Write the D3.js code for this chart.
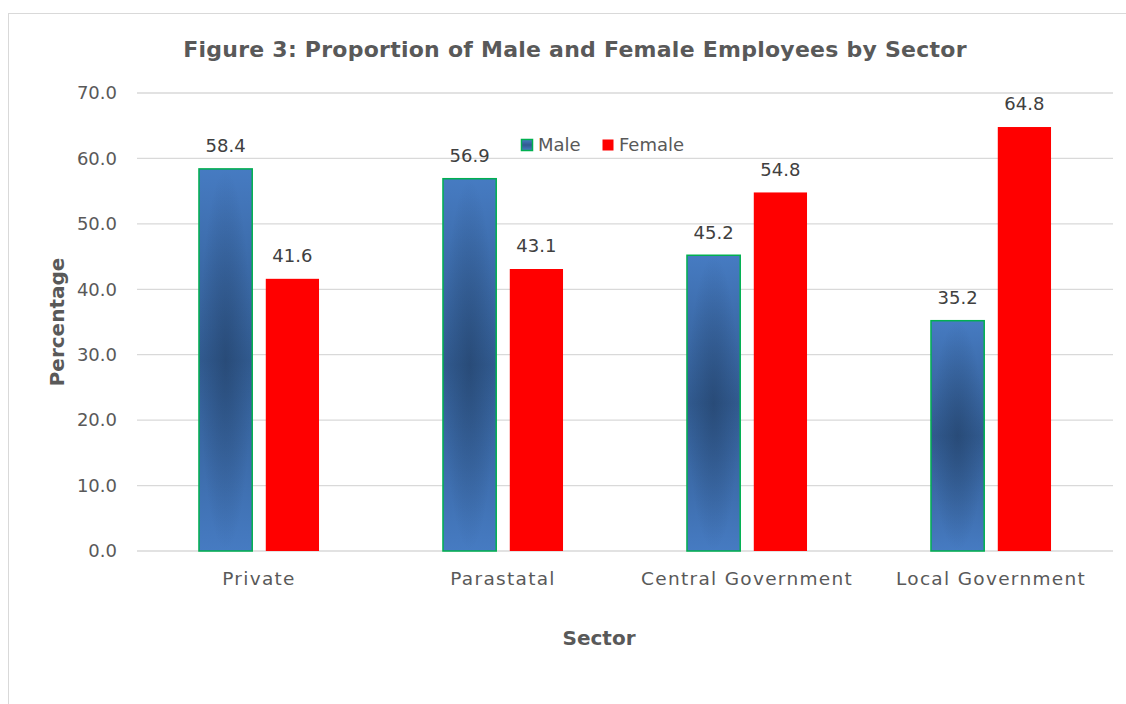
<!DOCTYPE html>
<html>
<head>
<meta charset="utf-8">
<script src="https://cdn.jsdelivr.net/npm/d3@7"></script>
<style>
  body { margin: 0; background: #fff; }
  text { font-family: "DejaVu Sans", sans-serif; }
</style>
</head>
<body>
<div id="chart"></div>
<script>
// chart data
const sectors = ["Private", "Parastatal", "Central Government", "Local Government"];
const seriesNames = ["Male", "Female"];
const maleValues = [58.4, 56.9, 45.2, 35.2];
const femaleValues = [41.6, 43.1, 54.8, 64.8];
const yTicks = [0, 10, 20, 30, 40, 50, 60, 70];

const W = 1126, H = 704;
const margin = { top: 93, right: 13, bottom: 153, left: 137 };
const width = W - margin.left - margin.right;
const height = H - margin.top - margin.bottom;

const rows = sectors.map((s, i) => ({ sector: s, Male: maleValues[i], Female: femaleValues[i] }));

const svg = d3.select("#chart").append("svg")
    .attr("width", W)
    .attr("height", H);

// outer frame
svg.append("rect")
    .attr("x", 8.5).attr("y", 13.5)
    .attr("width", 1300).attr("height", 900)
    .attr("fill", "#fff")
    .attr("stroke", "#d9d9d9");

// gradient for male bars
const defs = svg.append("defs");
const lin = defs.append("linearGradient")
    .attr("id", "maleLin")
    .attr("x1", 0).attr("y1", 0).attr("x2", 0).attr("y2", 1);
lin.append("stop").attr("offset", "0%").attr("stop-color", "#467bc2");
lin.append("stop").attr("offset", "50%").attr("stop-color", "#315a8f");
lin.append("stop").attr("offset", "100%").attr("stop-color", "#467bc2");
const rad = defs.append("radialGradient")
    .attr("id", "maleRad")
    .attr("cx", 0.5).attr("cy", 0.5).attr("r", 0.5);
rad.append("stop").attr("offset", "0%").attr("stop-color", "#1c3556").attr("stop-opacity", 0.4);
rad.append("stop").attr("offset", "100%").attr("stop-color", "#1c3556").attr("stop-opacity", 0);

const g = svg.append("g")
    .attr("transform", `translate(${margin.left},${margin.top})`);

// scales
const x0 = d3.scaleBand()
    .domain(sectors)
    .range([0, width])
    .paddingInner(0.508)
    .paddingOuter(0.254);

const x1 = d3.scaleBand()
    .domain(seriesNames)
    .range([0, x0.bandwidth()])
    .paddingInner(0.203);

const y = d3.scaleLinear()
    .domain([0, 70])
    .range([height, 0]);

// gridlines
g.append("g")
    .selectAll("line")
    .data(yTicks)
    .enter()
    .append("line")
    .attr("x1", 0).attr("x2", width)
    .attr("y1", d => y(d)).attr("y2", d => y(d))
    .attr("stroke", "#d9d9d9")
    .attr("stroke-width", 1.3);

// y axis labels
const yAxis = g.append("g")
    .attr("transform", "translate(-17,0)")
    .call(d3.axisLeft(y).tickValues(yTicks).tickFormat(d3.format(".1f")).tickSize(0));
yAxis.select(".domain").remove();
yAxis.selectAll("text")
    .attr("fill", "#595959")
    .attr("font-size", 18)
    .style("font-family", "DejaVu Sans, sans-serif");

// x axis labels
const xAxis = g.append("g")
    .attr("transform", `translate(0,${height})`)
    .call(d3.axisBottom(x0).tickSize(0));
xAxis.select(".domain").remove();
xAxis.selectAll("text")
    .attr("fill", "#595959")
    .attr("font-size", 18.5)
    .attr("dy", "1.7em")
    .attr("letter-spacing", 1.3)
    .style("font-family", "DejaVu Sans, sans-serif");

// bars
const groups = g.selectAll(".sector")
    .data(rows)
    .enter()
    .append("g")
    .attr("class", "sector")
    .attr("transform", d => `translate(${x0(d.sector)},0)`);

seriesNames.forEach(name => {
    groups.append("rect")
        .attr("x", x1(name))
        .attr("y", d => y(d[name]))
        .attr("width", x1.bandwidth())
        .attr("height", d => height - y(d[name]))
        .attr("fill", name === "Male" ? "url(#maleLin)" : "#ff0000")
        .attr("stroke", name === "Male" ? "#00b050" : "none")
        .attr("stroke-width", 1.5);
    if (name === "Male") {
        groups.append("rect")
            .attr("x", x1(name) + 0.75)
            .attr("y", d => y(d[name]) + 0.75)
            .attr("width", x1.bandwidth() - 1.5)
            .attr("height", d => height - y(d[name]) - 1.5)
            .attr("fill", "url(#maleRad)");
    }
    // data labels
    groups.append("text")
        .attr("x", x1(name) + x1.bandwidth() / 2)
        .attr("y", d => y(d[name]) - 23)
        .attr("dy", "0.35em")
        .attr("text-anchor", "middle")
        .attr("font-size", 18)
        .attr("fill", "#404040")
        .text(d => d[name].toFixed(1));
});

// title
svg.append("text")
    .attr("x", 575).attr("y", 49)
    .attr("dy", "0.35em")
    .attr("text-anchor", "middle")
    .attr("font-size", 22)
    .attr("font-weight", "bold")
    .attr("letter-spacing", 0.25)
    .attr("fill", "#595959")
    .text("Figure 3: Proportion of Male and Female Employees by Sector");

// axis titles
svg.append("text")
    .attr("x", 599).attr("y", 638)
    .attr("dy", "0.35em")
    .attr("text-anchor", "middle")
    .attr("font-size", 20)
    .attr("font-weight", "bold")
    .attr("fill", "#595959")
    .text("Sector");

svg.append("text")
    .attr("transform", `translate(57,${margin.top + height / 2}) rotate(-90)`)
    .attr("dy", "0.35em")
    .attr("text-anchor", "middle")
    .attr("font-size", 20)
    .attr("font-weight", "bold")
    .attr("fill", "#595959")
    .text("Percentage");

// legend
const legend = svg.append("g").attr("transform", "translate(521,139)");
const legendX = [0, 81];
seriesNames.forEach((name, i) => {
    legend.append("rect")
        .attr("x", legendX[i] + 0.5).attr("y", 0.5)
        .attr("width", 11).attr("height", 11)
        .attr("fill", name === "Male" ? "url(#maleLin)" : "#ff0000")
        .attr("stroke", name === "Male" ? "#00b050" : "none")
        .attr("stroke-width", 1.5);
    legend.append("text")
        .attr("x", legendX[i] + 17).attr("y", 6)
        .attr("dy", "0.35em")
        .attr("font-size", 18)
        .attr("fill", "#595959")
        .text(name);
});
</script>
</body>
</html>
